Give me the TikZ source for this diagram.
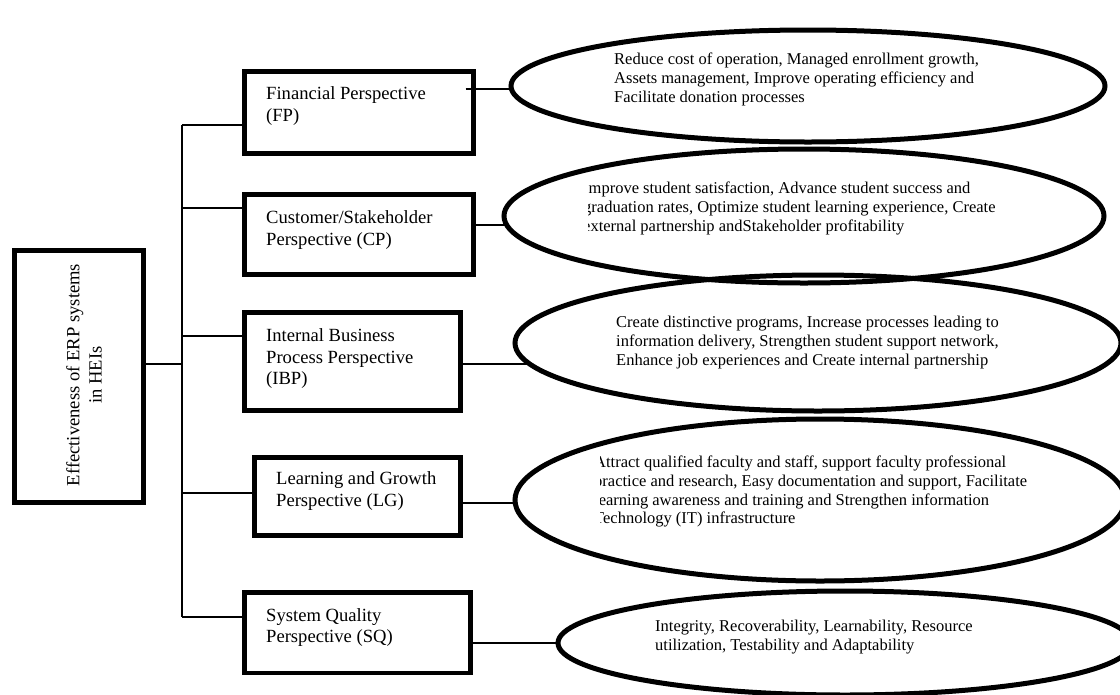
\documentclass[tikz,border=0pt]{standalone}
\usepackage{fontspec}
\setmainfont{Liberation Serif}
\usetikzlibrary{shapes.geometric}
\begin{document}
\begin{tikzpicture}[x=1pt,y=-1pt,
  box/.style={draw, line width=4.7pt, rectangle, inner sep=0pt, outer sep=0pt},
  oval/.style={draw, line width=5pt, ellipse, inner sep=0pt, outer sep=0pt},
  btext/.style={anchor=north west, inner sep=0pt, align=left, font=\fontsize{18.6}{21.5}\selectfont},
  etext/.style={anchor=north west, inner sep=0pt, align=left, font=\fontsize{16.5}{18.8}\selectfont},
  conn/.style={line width=2pt}]
\useasboundingbox (0,0) rectangle (1120,694);

% main box
\node[box, minimum width=129.4pt, minimum height=252.4pt] (M) at (79,376.5) {};
\node[rotate=90, align=center, inner sep=0pt, font=\fontsize{18.6}{22.3}\selectfont] (Mt) at (84,375) {Effectiveness of ERP systems\\in HEIs};

% perspective boxes
\node[box, minimum width=229.4pt, minimum height=82.4pt] (FP) at (359,112.5) {};
\node[btext] (FPt) at (266,86.6) {Financial Perspective\\(FP)};
\node[box, minimum width=229.4pt, minimum height=80.4pt] (CP) at (359,234.5) {};
\node[btext] (CPt) at (266,210.6) {Customer/Stakeholder\\Perspective (CP)};
\node[box, minimum width=216.4pt, minimum height=98.4pt] (IBP) at (352.5,361.5) {};
\node[btext] (IBPt) at (266,328.6) {Internal Business\\Process Perspective\\(IBP)};
\node[box, minimum width=206.4pt, minimum height=78.4pt] (LG) at (357.5,496.5) {};
\node[btext] (LGt) at (276,471.6) {Learning and Growth\\Perspective (LG)};
\node[box, minimum width=226.2pt, minimum height=80.7pt] (SQ) at (357.4,632.7) {};
\node[btext] (SQt) at (266,608) {System Quality\\Perspective (SQ)};

% ellipses
\node[oval, minimum width=594pt, minimum height=112pt] (E1) at (808,86) {};
\node[oval, minimum width=600pt, minimum height=134pt] (E2) at (804,216) {};
\node[oval, minimum width=606pt, minimum height=136pt] (E3) at (818,343) {};
\node[oval, minimum width=610pt, minimum height=162pt] (E4) at (820,500) {};
\node[oval, minimum width=574pt, minimum height=104pt] (E5) at (845,643) {};

% ellipse texts
\node[etext] (E1t) at (614,52.7) {Reduce cost of operation, Managed enrollment growth,\\Assets management, Improve operating efficiency and\\Facilitate donation processes};
\begin{scope}
\clip (588.5,150) rectangle (1120,280);
\node[etext] (E2t) at (583,181.7) {Improve student satisfaction, Advance student success and\\graduation rates, Optimize student learning experience, Create\\external partnership andStakeholder profitability};
\end{scope}
\node[etext] (E3t) at (616,316) {Create distinctive programs, Increase processes leading to\\information delivery, Strengthen student support network,\\Enhance job experiences and Create internal partnership};
\begin{scope}
\clip (600.5,420) rectangle (1120,580);
\node[etext] (E4t) at (594,455.7) {Attract qualified faculty and staff, support faculty professional\\practice and research, Easy documentation and support, Facilitate\\learning awareness and training and Strengthen information\\Technology (IT) infrastructure};
\end{scope}
\node[etext] (E5t) at (655,619.7) {Integrity, Recoverability, Learnability, Resource\\utilization, Testability and Adaptability};

% tree connectors
\coordinate (T1) at (182,125);
\coordinate (T2) at (182,617);
\draw[conn] (T1) -- (T2);
\draw[conn] (M.east |- 0,364) -- (T1 |- 0,364);
\draw[conn] (T1) -- (FP.west |- T1);
\draw[conn] (T1 |- 0,208) -- (CP.west |- 0,208);
\draw[conn] (T1 |- 0,336) -- (IBP.west |- 0,336);
\draw[conn] (T1 |- 0,493) -- (LG.west |- 0,493);
\draw[conn] (T2) -- (SQ.west |- T2);

% box to ellipse connectors
\draw[conn] ([xshift=-8pt]FP.east |- 0,89) -- ([xshift=3pt]E1.west |- 0,89);
\draw[conn] (CP.east |- 0,225) -- ([xshift=3pt]E2.west |- 0,225);
\draw[conn] (IBP.east |- 0,364) -- ([xshift=15pt]E3.west |- 0,364);
\draw[conn] (LG.east |- 0,503) -- ([xshift=1pt]E4.west |- 0,503);
\draw[conn] (SQ.east |- 0,643) -- ([xshift=1pt]E5.west |- 0,643);
\end{tikzpicture}
\end{document}
